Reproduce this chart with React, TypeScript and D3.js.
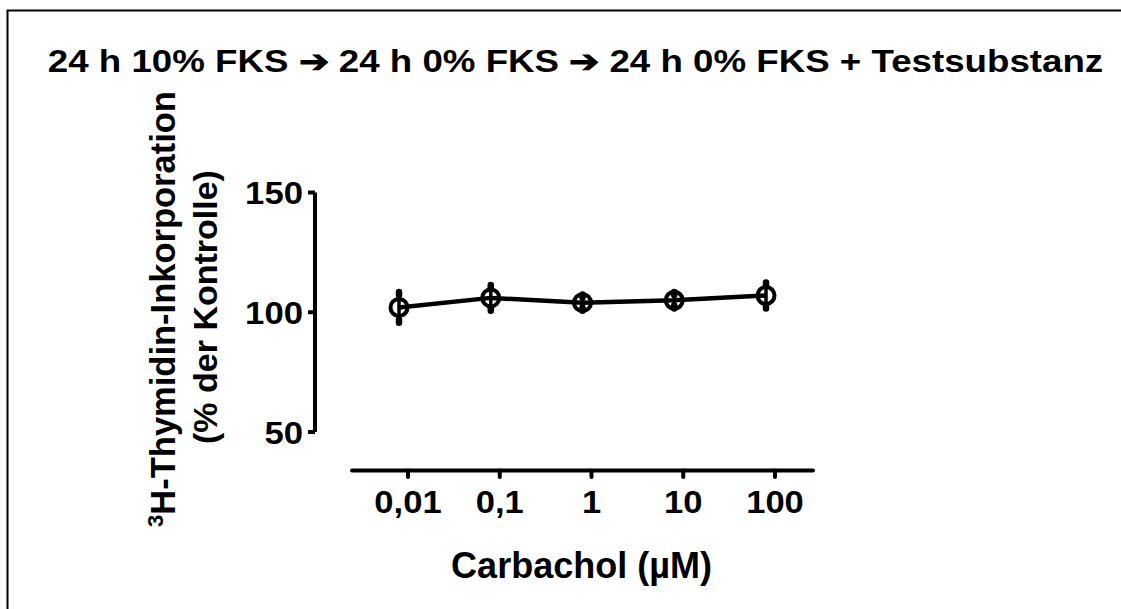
import React from "react";
import * as d3 from "d3";

// Carbachol concentrations (µM) and 3H-thymidine incorporation (% of control)
const concentrations = [0.01, 0.1, 1, 10, 100];
const tickLabels = ["0,01", "0,1", "1", "10", "100"];
const meanValues = [102, 106, 104, 105, 107];
const errorValues = [6, 5, 3, 3, 5];
const yTicks = [50, 100, 150];

const W = 1121;
const H = 609;
const FONT = "'Liberation Sans', Arial, Helvetica, sans-serif";

export default function App() {
  const x = d3.scaleLog().domain([0.01, 100]).range([408, 775]);
  const y = d3.scaleLinear().domain([50, 150]).range([432, 192.5]);
  const pointShift = -9; // data symbols sit slightly left of the tick marks

  const px = (c: number) => x(c) + pointShift;

  const line = d3
    .line<number>()
    .x((_, i) => px(concentrations[i]))
    .y((d) => y(d));

  return (
    <svg
      width={W}
      height={H}
      style={{ position: "absolute", left: 0, top: 0, background: "#fff" }}
      fontFamily={FONT}
      fontWeight="bold"
    >
      <rect x={0} y={0} width={W} height={H} fill="#fff" />
      {/* frame */}
      <path d={`M7.5,${H} V10.5 H${W}`} fill="none" stroke="#000" strokeWidth={2} />

      {/* title (slightly widened lettering) */}
      <g transform="translate(575.5,71.5) scale(1.165,1)">
        <text x={0} y={0} textAnchor="middle" fontSize={31.5}>
          24 h 10% FKS ➔ 24 h 0% FKS ➔ 24 h 0% FKS + Testsubstanz
        </text>
      </g>

      {/* y axis */}
      <line x1={315} x2={315} y1={y(150)} y2={y(50)} stroke="#000" strokeWidth={4} />
      {yTicks.map((t) => (
        <g key={t}>
          <line x1={308} x2={315} y1={y(t)} y2={y(t)} stroke="#000" strokeWidth={4} />
          <g transform={`translate(303,${y(t) + 11.5}) scale(1.12,1)`}>
            <text x={0} y={0} textAnchor="end" fontSize={31}>
              {t}
            </text>
          </g>
        </g>
      ))}

      {/* y axis title */}
      <g transform="translate(175,309) rotate(-90)">
        <text x={0} y={0} textAnchor="middle" fontSize={34.5}>
          <tspan fontSize={22} dy={-12}>3</tspan>
          <tspan dy={12}>H-Thymidin-Inkorporation</tspan>
        </text>
      </g>
      <g transform="translate(217,307) rotate(-90)">
        <text x={0} y={0} textAnchor="middle" fontSize={34}>
          (% der Kontrolle)
        </text>
      </g>

      {/* x axis */}
      <line x1={352} x2={813} y1={470.5} y2={470.5} stroke="#000" strokeWidth={4} strokeLinecap="round" />
      {concentrations.map((c, i) => (
        <g key={c}>
          <line x1={x(c)} x2={x(c)} y1={470.5} y2={477} stroke="#000" strokeWidth={4} strokeLinecap="round" />
          <g transform={`translate(${x(c)},513) scale(1.08,1)`}>
            <text x={0} y={0} textAnchor="middle" fontSize={32}>
              {tickLabels[i]}
            </text>
          </g>
        </g>
      ))}
      <text x={581.5} y={578} textAnchor="middle" fontSize={36}>
        Carbachol (µM)
      </text>

      {/* error bars */}
      {meanValues.map((m, i) => {
        const cx = px(concentrations[i]);
        const top = y(m + errorValues[i]);
        const bot = y(m - errorValues[i]);
        return (
          <g key={i}>
            <line x1={cx} x2={cx} y1={top} y2={bot} stroke="#000" strokeWidth={3.5} />
            <line x1={cx} x2={cx} y1={top - 1} y2={top + 2} stroke="#000" strokeWidth={6.5} strokeLinecap="round" />
            <line x1={cx} x2={cx} y1={bot - 2} y2={bot + 1} stroke="#000" strokeWidth={6.5} strokeLinecap="round" />
          </g>
        );
      })}

      {/* mean line */}
      <path d={line(meanValues) || ""} fill="none" stroke="#000" strokeWidth={4.5} strokeLinejoin="round" />

      {/* open circle symbols */}
      {meanValues.map((m, i) => (
        <circle key={i} cx={px(concentrations[i])} cy={y(m)} r={8.5} fill="none" stroke="#000" strokeWidth={4} />
      ))}
    </svg>
  );
}
